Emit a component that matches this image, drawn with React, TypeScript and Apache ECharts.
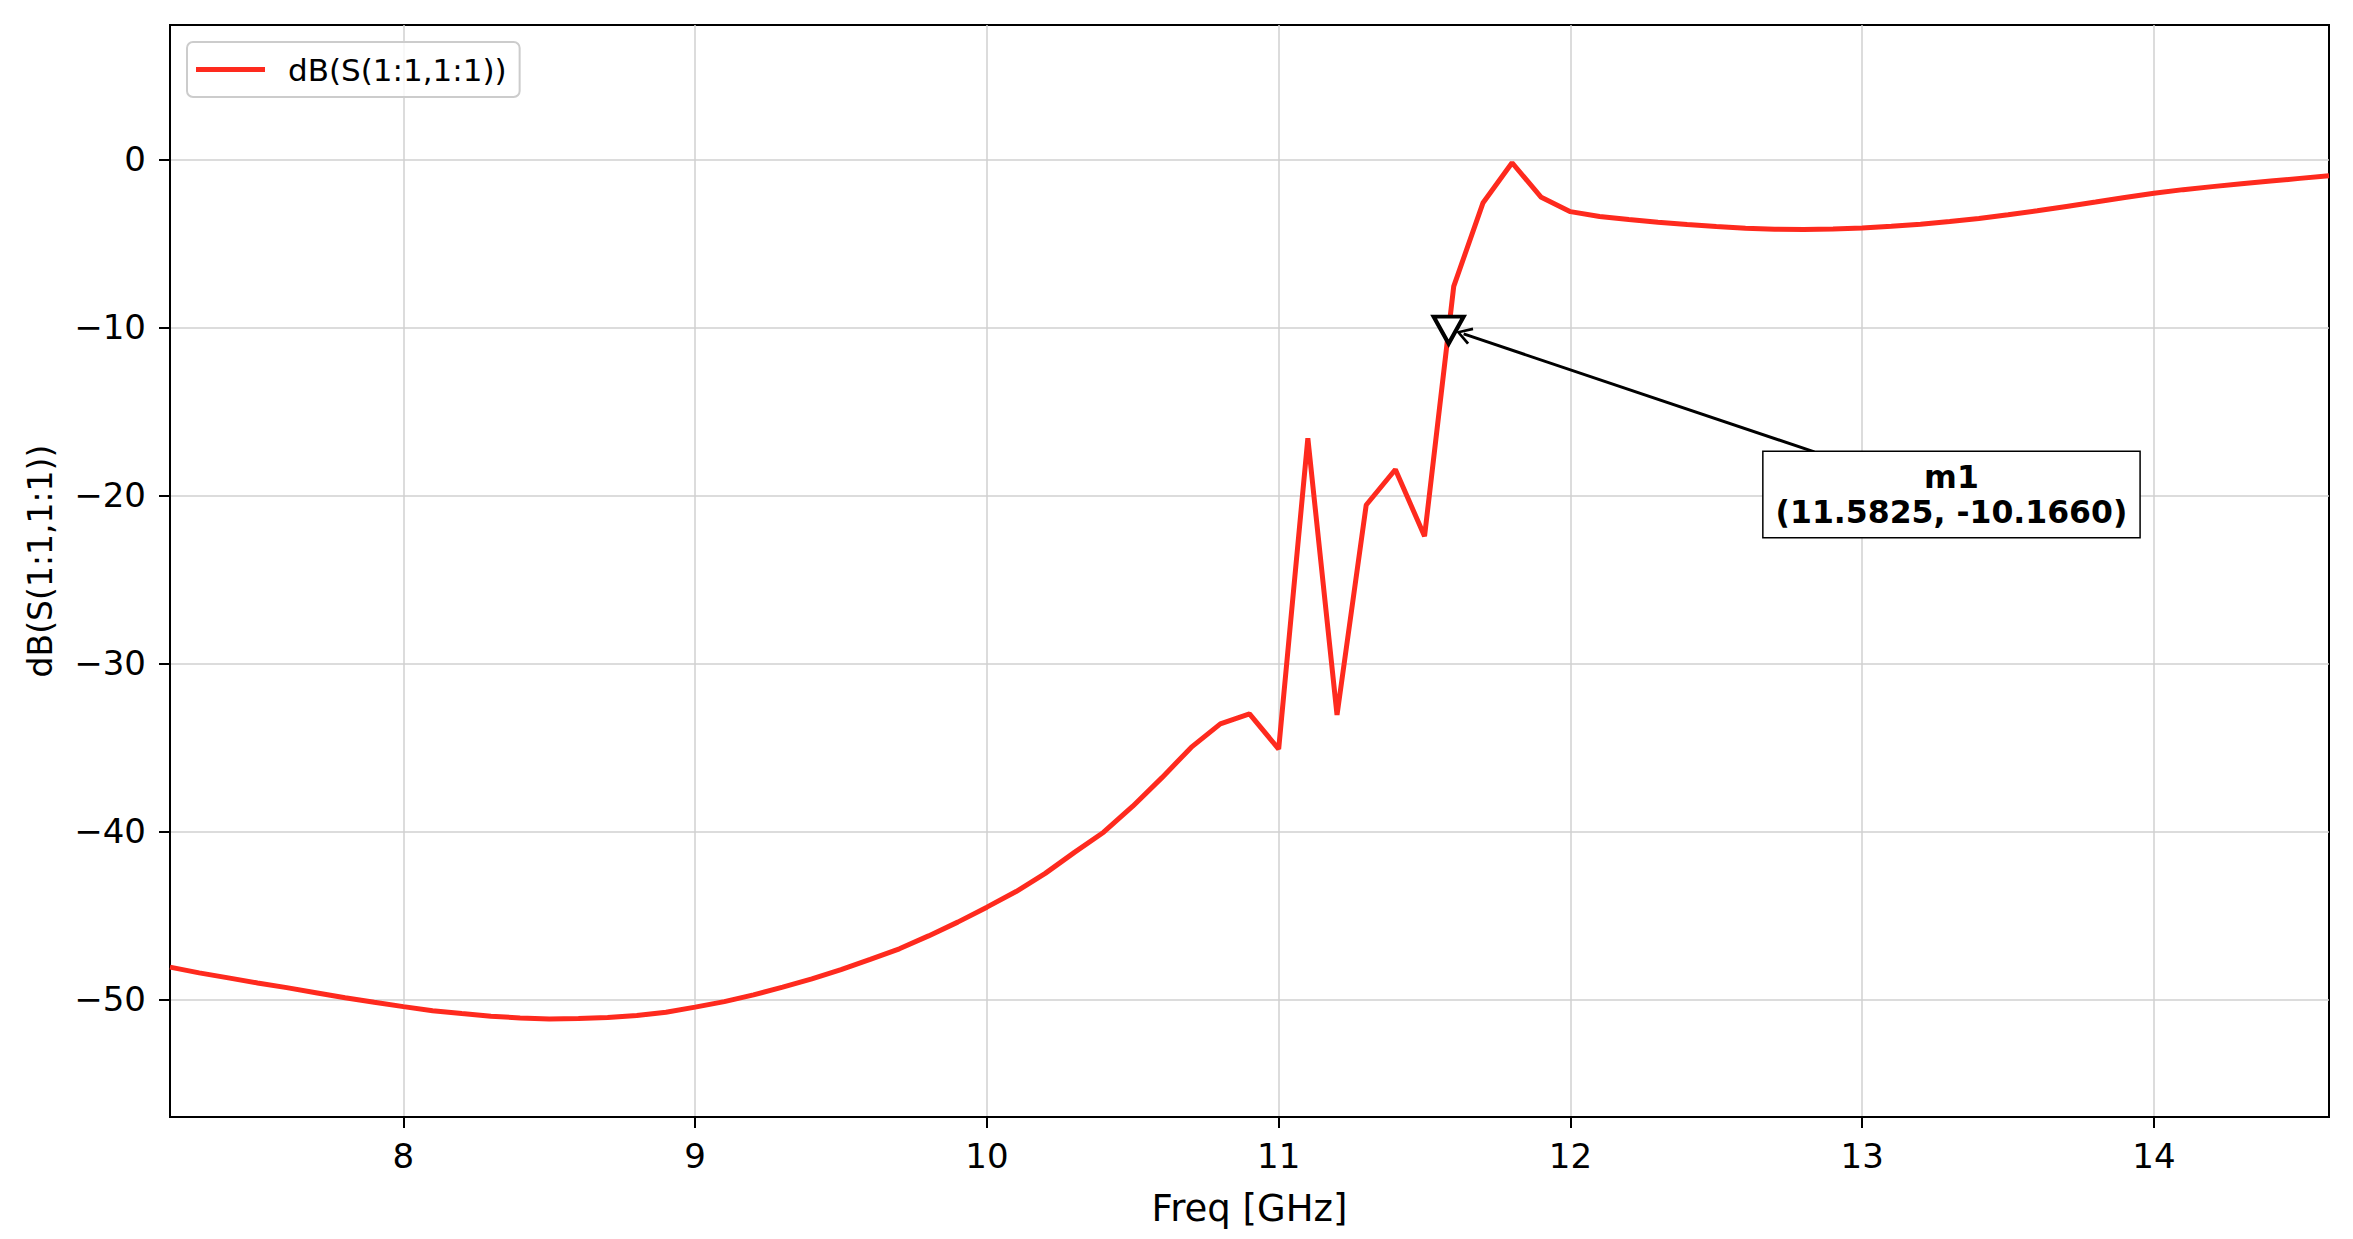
import React, { useEffect, useRef } from "react";
import * as echarts from "echarts";

const FREQ = [
  7.2, 7.3, 7.4, 7.5, 7.6, 7.7, 7.8, 7.9, 8.0, 8.1, 8.2, 8.3, 8.4, 8.5, 8.6, 8.7, 8.8, 8.9,
  9.0, 9.1, 9.2, 9.3, 9.4, 9.5, 9.6, 9.7, 9.8, 9.9, 10.0, 10.1, 10.2, 10.3, 10.4, 10.5, 10.6,
  10.7, 10.8, 10.9, 11.0, 11.1, 11.2, 11.3, 11.4, 11.5, 11.6, 11.7, 11.8, 11.9, 12.0, 12.1,
  12.2, 12.3, 12.4, 12.5, 12.6, 12.7, 12.8, 12.9, 13.0, 13.1, 13.2, 13.3, 13.4, 13.5, 13.6,
  13.7, 13.8, 13.9, 14.0, 14.1, 14.2, 14.3, 14.4, 14.5, 14.6,
];
const S11_DB = [
  -48.08, -48.42, -48.72, -49.02, -49.3, -49.6, -49.9, -50.17, -50.43, -50.67, -50.84, -51.0,
  -51.1, -51.16, -51.14, -51.08, -50.96, -50.76, -50.46, -50.13, -49.73, -49.27, -48.78,
  -48.23, -47.62, -46.99, -46.22, -45.4, -44.51, -43.58, -42.5, -41.25, -40.05, -38.5, -36.8,
  -35.0, -33.6, -33.0, -35.1, -16.6, -33.07, -20.57, -18.46, -22.43, -7.56, -2.6, -0.2, -2.26,
  -3.11, -3.4, -3.58, -3.74, -3.88, -4.0, -4.1, -4.16, -4.18, -4.14, -4.08, -3.98, -3.86, -3.7,
  -3.52, -3.3, -3.06, -2.8, -2.54, -2.27, -2.02, -1.8, -1.62, -1.45, -1.29, -1.13, -0.97,
];
const X_TICKS = [8, 9, 10, 11, 12, 13, 14];
const Y_TICKS = [-50, -40, -30, -20, -10, 0];
const X_RANGE = [7.2, 14.6];
const Y_RANGE = [-57, 8];
const SERIES_NAME = "dB(S(1:1,1:1))";
const X_NAME = "Freq [GHz]";
const MARKER = [11.5825, -10.166];
const MARKER_LABEL = ["m1", "(11.5825, -10.1660)"];
const ARROW_FROM = [12.836, -17.41];
const ARROW_TO = [11.634, -10.39];
const LABEL_POS = [13.306, -19.94];

const FONT = "DejaVu Sans";
const RED = "#fe2a1e";

export default function App() {
  const ref = useRef<HTMLDivElement>(null);
  useEffect(() => {
    if (!ref.current) return;
    const chart = echarts.init(ref.current, undefined, { renderer: "svg" });
    const fmt = (v: number) => String(v).replace("-", "\u2212");
    chart.setOption({
      animation: false,
      backgroundColor: "#ffffff",
      textStyle: { fontFamily: FONT },
      grid: {
        left: 170,
        right: 24,
        top: 25,
        bottom: 122,
        show: true,
        borderColor: "#000",
        borderWidth: 2,
        containLabel: false,
      },
      legend: {
        data: [SERIES_NAME],
        left: 187,
        top: 42,
        orient: "vertical",
        icon: "rect",
        itemWidth: 69,
        itemHeight: 5,
        padding: [12, 13, 12, 9],
        backgroundColor: "rgba(255,255,255,0.8)",
        borderColor: "#cccccc",
        borderWidth: 2,
        borderRadius: 6,
        textStyle: { fontSize: 31, color: "#000", fontFamily: FONT, padding: [0, 0, 0, 18] },
      },
      xAxis: {
        type: "value",
        min: X_RANGE[0],
        max: X_RANGE[1],
        splitNumber: 7,
        name: X_NAME,
        nameLocation: "middle",
        nameGap: 73,
        nameTextStyle: { fontSize: 37, color: "#000", fontFamily: FONT },
        axisLine: { show: true, onZero: false, lineStyle: { color: "#000", width: 2 } },
        axisTick: {
          show: true,
          length: 11,
          lineStyle: { color: "#000", width: 2 },
          customValues: X_TICKS,
        },
        axisLabel: {
          fontSize: 34,
          color: "#000",
          margin: 22,
          fontFamily: FONT,
          customValues: X_TICKS,
          formatter: fmt,
        },
        splitLine: { show: true, lineStyle: { color: "#d0d0d0", width: 1.5 } },
      },
      yAxis: {
        type: "value",
        min: Y_RANGE[0],
        max: Y_RANGE[1],
        splitNumber: 6,
        name: SERIES_NAME,
        nameLocation: "middle",
        nameGap: 113,
        nameTextStyle: {
          fontSize: 33,
          color: "#000",
          fontFamily: FONT,
          padding: [0, 0, 0, 20],
        },
        axisLine: { show: true, onZero: false, lineStyle: { color: "#000", width: 2 } },
        axisTick: {
          show: true,
          length: 11,
          lineStyle: { color: "#000", width: 2 },
          customValues: Y_TICKS,
        },
        axisLabel: {
          fontSize: 34,
          color: "#000",
          margin: 24,
          fontFamily: FONT,
          customValues: Y_TICKS,
          formatter: fmt,
        },
        splitLine: { show: true, lineStyle: { color: "#d0d0d0", width: 1.5 } },
      },
      series: [
        {
          name: SERIES_NAME,
          type: "line",
          data: FREQ.map((f, i) => [f, S11_DB[i]]),
          showSymbol: false,
          symbol: "none",
          lineStyle: { color: RED, width: 5 },
          itemStyle: { color: RED },
          z: 2,
        },
        {
          name: "m1",
          type: "scatter",
          data: [MARKER],
          symbol: "triangle",
          symbolRotate: 180,
          symbolSize: [30, 27],
          itemStyle: { color: "#ffffff", borderColor: "#000", borderWidth: 4, opacity: 1 },
          z: 5,
          markLine: {
            silent: true,
            symbol: ["none", "path://M0,9 L5,0 L10,9 L8.6,9.9 L5,3.0 L1.4,9.9 Z"],
            symbolSize: [18, 16],
            label: { show: false },
            lineStyle: { color: "#000", width: 3, type: "solid", opacity: 1 },
            data: [[{ coord: ARROW_FROM }, { coord: ARROW_TO }]],
          },
        },
        {
          name: "m1 label",
          type: "scatter",
          data: [LABEL_POS],
          symbolSize: 1,
          itemStyle: { color: "rgba(0,0,0,0)", opacity: 1 },
          z: 6,
          label: {
            show: true,
            position: "inside",
            formatter: MARKER_LABEL.join("\n"),
            fontFamily: FONT,
            fontWeight: "bold",
            fontSize: 31.5,
            lineHeight: 35,
            color: "#000",
            opacity: 1,
            align: "center",
            backgroundColor: "#ffffff",
            borderColor: "#000",
            borderWidth: 1.5,
            padding: [8, 12, 7, 12],
          },
        },
      ],
    });
    return () => chart.dispose();
  }, []);
  return (
    <div
      ref={ref}
      style={{ position: "absolute", left: 0, top: 0, width: 2353, height: 1239 }}
    />
  );
}
